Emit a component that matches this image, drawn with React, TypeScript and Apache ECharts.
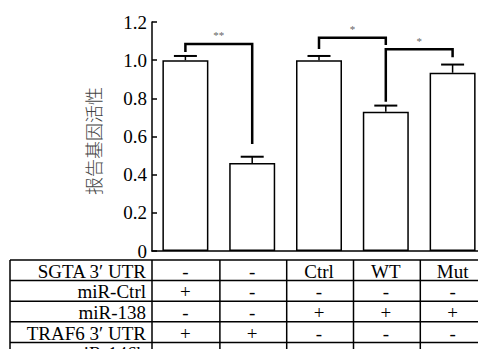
import React, { useEffect, useRef } from "react";
import * as echarts from "echarts";

const categories = ["1", "2", "3", "4", "5"];
const means = [1.0, 0.461, 1.0, 0.73, 0.934];
const errors = [0.022, 0.033, 0.022, 0.032, 0.043];
const yTicks = [0, 0.2, 0.4, 0.6, 0.8, 1.0, 1.2];
const yTitle = "报告基因活性";

// [fromIndex, toIndex, topValue, leftLegEnd, rightLegEnd]
const brackets = [
  [0, 1, 1.085, 1.043, 0.561],
  [2, 3, 1.118, 1.059, 1.08],
  [3, 4, 1.057, 0.782, 1.015],
];
const bracketLabels = ["**", "*", "*"];

const rowLabels = ["SGTA 3′ UTR", "miR-Ctrl", "miR-138", "TRAF6 3′ UTR", "miR-146b"];
const tableCells = [
  ["-", "-", "Ctrl", "WT", "Mut"],
  ["+", "-", "-", "-", "-"],
  ["-", "-", "+", "+", "+"],
  ["+", "+", "-", "-", "-"],
  ["-", "+", "-", "-", "-"],
];

const SERIF = "Liberation Serif";

export default function App() {
  const ref = useRef<HTMLDivElement>(null);
  useEffect(() => {
    if (!ref.current) return;
    const chart = echarts.init(ref.current, null, { renderer: "svg" });
    const gridLeft = 152;
    const gridTop = 22;
    const gridHeight = 229;
    const gridWidth = 345;
    chart.setOption({
      animation: false,
      grid: { left: gridLeft, top: gridTop, width: gridWidth, height: gridHeight },
      xAxis: {
        type: "category",
        data: categories,
        axisLine: { lineStyle: { color: "#000", width: 1.5 } },
        axisTick: { show: false },
        axisLabel: { show: false },
      },
      yAxis: {
        type: "value",
        min: 0,
        max: 1.2,
        interval: 0.2,
        axisLine: { show: true, lineStyle: { color: "#000", width: 1.5 } },
        axisTick: { show: true, inside: true, length: 5, lineStyle: { color: "#000", width: 1.5 } },
        splitLine: { show: false },
        axisLabel: {
          margin: 5,
          color: "#000",
          fontFamily: SERIF,
          fontSize: 19,
          formatter: (v: number) => {
            const t = yTicks.find((k) => Math.abs(k - v) < 1e-6);
            if (t === undefined) return "";
            return t === 0 ? "0" : t.toFixed(1);
          },
        },
      },
      series: [
        {
          type: "bar",
          data: means,
          barWidth: 46,
          itemStyle: { color: "#fff", borderColor: "#000", borderWidth: 1.5 },
          silent: true,
        },
        {
          type: "custom",
          data: means.map((m, i) => [i, m, errors[i]]),
          encode: { x: 0, y: 1 },
          renderItem: (params: any, api: any) => {
            const x = api.value(0);
            const m = api.value(1);
            const e = api.value(2);
            const top = api.coord([x, m + e]);
            const base = api.coord([x, m]);
            return {
              type: "group",
              children: [
                { type: "line", shape: { x1: top[0], y1: top[1], x2: base[0], y2: base[1] }, style: { stroke: "#000", lineWidth: 1.5 } },
                { type: "line", shape: { x1: top[0] - 11.5, y1: top[1], x2: top[0] + 11.5, y2: top[1] }, style: { stroke: "#000", lineWidth: 2 } },
              ],
            };
          },
          z: 5,
        },
        {
          type: "custom",
          data: brackets,
          encode: { x: [0, 1], y: [2, 3, 4] },
          renderItem: (params: any, api: any) => {
            const a = api.value(0);
            const b = api.value(1);
            const top = api.value(2);
            const l = api.value(3);
            const r = api.value(4);
            const p1 = api.coord([a, l]);
            const p2 = api.coord([a, top]);
            const p3 = api.coord([b, top]);
            const p4 = api.coord([b, r]);
            return {
              type: "group",
              children: [
                {
                  type: "polyline",
                  shape: { points: [p1, p2, p3, p4] },
                  style: { stroke: "#000", lineWidth: 2.5, fill: "none" },
                },
                {
                  type: "text",
                  x: (p2[0] + p3[0]) / 2,
                  y: p2[1] - 3,
                  style: {
                    text: bracketLabels[params.dataIndex],
                    fill: "#666",
                    fontSize: 11,
                    fontFamily: SERIF,
                    align: "center",
                    verticalAlign: "bottom",
                  },
                },
              ],
            };
          },
          z: 6,
        },
      ],
    });

    // Table below the chart, aligned with category positions
    const axisX = gridLeft;
    const centers = categories.map((_, i) => chart.convertToPixel({ xAxisIndex: 0 }, i) as number);
    const half = gridWidth / categories.length / 2;
    const tableTop = 260;
    const rowH = 20.6;
    const tableLeft = 10;
    const tableRight = centers[centers.length - 1] + half;
    const els: any[] = [];
    const lineStyle = { stroke: "#000", lineWidth: 1.5 };
    for (let r = 0; r <= rowLabels.length; r++) {
      const y = tableTop + r * rowH;
      els.push({ type: "line", shape: { x1: tableLeft, y1: y, x2: tableRight, y2: y }, style: lineStyle });
    }
    const bottom = tableTop + rowLabels.length * rowH;
    const vx = [tableLeft, axisX, ...centers.map((c) => c + half)];
    vx.forEach((x) => {
      els.push({ type: "line", shape: { x1: x, y1: tableTop, x2: x, y2: bottom }, style: lineStyle });
    });
    rowLabels.forEach((lab, r) => {
      const cy = tableTop + r * rowH + rowH / 2 + 1;
      els.push({
        type: "text",
        x: axisX - 6,
        y: cy,
        style: { text: lab, fill: "#000", fontSize: 19, fontFamily: SERIF, align: "right", verticalAlign: "middle" },
      });
      tableCells[r].forEach((cell, c) => {
        els.push({
          type: "text",
          x: centers[c],
          y: cy,
          style: { text: cell, fill: "#000", fontSize: 19, fontFamily: SERIF, align: "center", verticalAlign: "middle" },
        });
      });
    });
    els.push({
      type: "text",
      x: 93,
      y: 141,
      rotation: Math.PI / 2,
      style: {
        text: yTitle,
        fill: "#444",
        fontSize: 18,
        fontFamily: "Noto Sans CJK SC",
        fontWeight: 300,
        align: "center",
        verticalAlign: "middle",
      },
    });
    chart.setOption({ graphic: { elements: els } });

    return () => chart.dispose();
  }, []);
  return <div ref={ref} style={{ width: 486, height: 357, margin: -8 }} />;
}
